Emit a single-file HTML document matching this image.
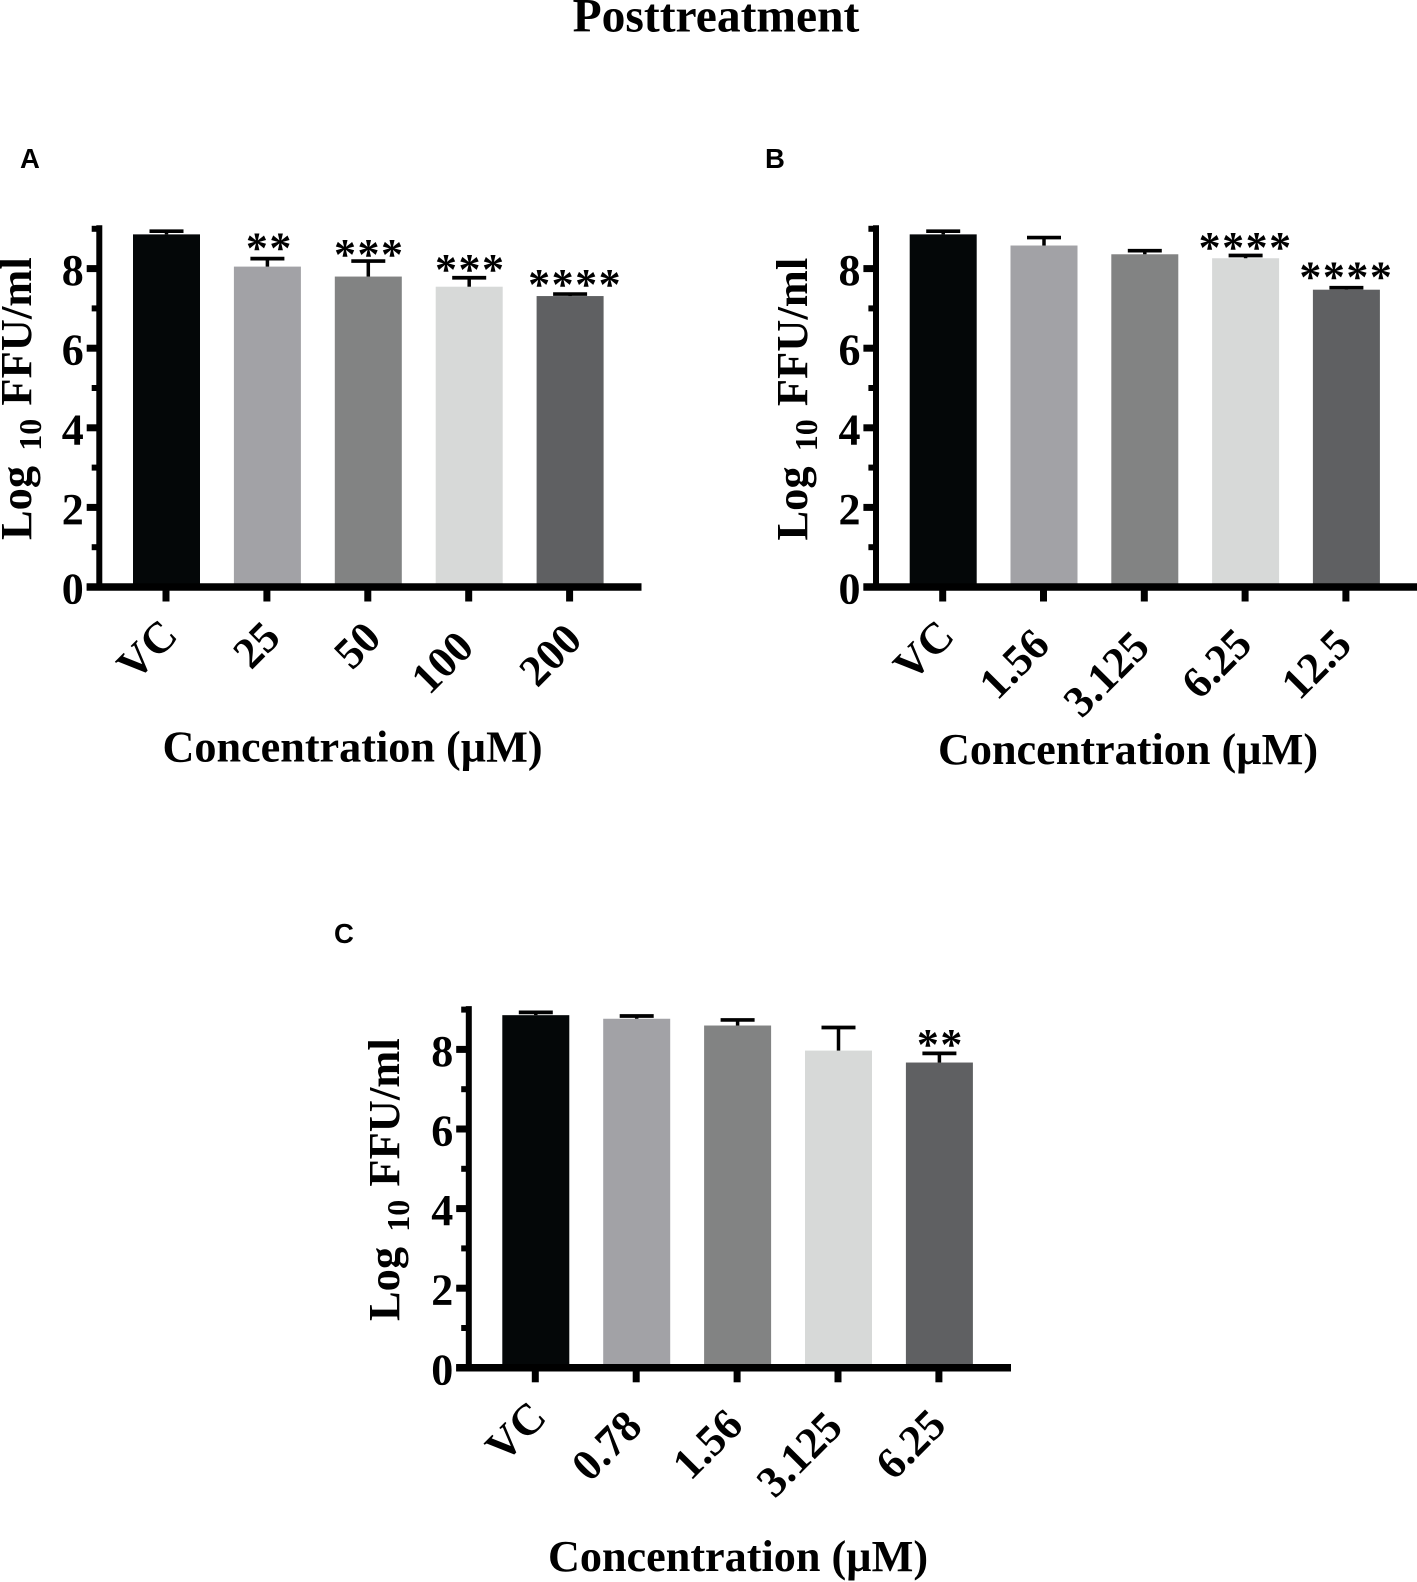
<!DOCTYPE html>
<html lang="en">
<head>
<meta charset="utf-8">
<title>Posttreatment</title>
<style>
html,body{margin:0;padding:0;background:#fff;width:1417px;height:1582px;overflow:hidden}
svg{display:block}
text{font-family:"Liberation Serif",serif;font-weight:700;fill:#000}
.letter{font-family:"Liberation Sans",sans-serif;font-size:27.5px}
.tick{font-size:44px}
.xt{font-size:44px}
.ax{font-size:44.2px}
.yt{font-size:44.5px}
.stars{font-weight:700;font-size:44px;letter-spacing:1.5px}
</style>
</head>
<body>
<svg id="fig" xmlns="http://www.w3.org/2000/svg" width="1417" height="1582" viewBox="0 0 1417 1582">
  <text x="716" y="31.5" text-anchor="middle" font-size="47.5">Posttreatment</text>

  <text class="letter" x="20" y="168">A</text>
  <text class="letter" x="765" y="168">B</text>
  <text class="letter" x="334" y="943">C</text>

  <text class="yt" transform="translate(31,540) rotate(-90)">Log <tspan font-size="32" dx="4" dy="10">10</tspan><tspan dx="2" dy="-10"> FFU/ml</tspan></text>
  <text class="yt" transform="translate(807,540.5) rotate(-90)">Log <tspan font-size="32" dx="4" dy="10">10</tspan><tspan dx="2" dy="-10"> FFU/ml</tspan></text>
  <text class="yt" transform="translate(399,1321) rotate(-90)">Log <tspan font-size="32" dx="4" dy="10">10</tspan><tspan dx="2" dy="-10"> FFU/ml</tspan></text>

  <text class="ax" x="352.5" y="761.5" text-anchor="middle">Concentration (µM)</text>
  <text class="ax" x="1128" y="764" text-anchor="middle">Concentration (µM)</text>
  <text class="ax" x="738" y="1571" text-anchor="middle">Concentration (µM)</text>
</svg>
<script>
// Shared axis values
const majorTicks = [0, 2, 4, 6, 8];
const minorTicks = [1, 3, 5, 7, 9];

// Panel A
const categoriesA = ["VC", "25", "50", "100", "200"];
const valuesA = [8.86, 8.05, 7.8, 7.545, 7.31];
const errorsA = [0.08, 0.2, 0.39, 0.225, 0.05];
const starsA = ["", "**", "***", "***", "****"];

// Panel B
const categoriesB = ["VC", "1.56", "3.125", "6.25", "12.5"];
const valuesB = [8.86, 8.58, 8.36, 8.26, 7.47];
const errorsB = [0.08, 0.2, 0.09, 0.07, 0.05];
const starsB = ["", "", "", "****", "****"];

// Panel C
const categoriesC = ["VC", "0.78", "1.56", "3.125", "6.25"];
const valuesC = [8.86, 8.77, 8.6, 7.97, 7.67];
const errorsC = [0.07, 0.07, 0.14, 0.58, 0.23];
const starsC = ["", "", "", "", "**"];

const barColors = ["#040708", "#a2a2a6", "#828383", "#d7d9d8", "#5f6062"];
const SVGNS = "http://www.w3.org/2000/svg";
const fig = document.getElementById("fig");

function el(parent, tag, props) {
  const n = document.createElementNS(SVGNS, tag);
  for (const k in props) n.setAttribute(k, props[k]);
  parent.appendChild(n);
  return n;
}

function drawPanel(id, cats, vals, errs, stars, geo) {
  const yScale = v => geo.y0 - v * geo.unit;
  const xBand = i => geo.barLeft + i * geo.step;
  const xMid = i => xBand(i) + geo.barW / 2;

  const g = el(fig, "g", {});
  
  

  cats.forEach((c, i) => {
    const top = yScale(vals[i]);
    const capY = yScale(vals[i] + errs[i]);

    const bar = el(g, "rect", {x: xBand(i), y: top, width: geo.barW, height: geo.y0 - top, fill: barColors[i]});
    
    

    const eb = el(g, "line", {x1: xMid(i), x2: xMid(i), y1: top, y2: capY, stroke: "#000", "stroke-width": 3.5});
    
    

    const cap = el(g, "line", {x1: xMid(i) - 17, x2: xMid(i) + 17, y1: capY, y2: capY, stroke: "#000", "stroke-width": 3.7});
    
    

    if (stars[i]) {
      const sx = xMid(i) + 1 + geo.starShiftX[i];
      const sy = capY + 21 - geo.starLift[i];
      const st = el(g, "text", {x: sx, y: sy, "text-anchor": "middle", "class": "stars"});
      st.textContent = stars[i];
      
      
    }

    const tx = xMid(i) - 0.5;
    const tk = el(g, "line", {x1: tx, x2: tx, y1: geo.y0, y2: geo.y0 + 14.5, stroke: "#000", "stroke-width": 7});
    
    

    const cx = tx + geo.labelDx[i], cy = geo.y0 + geo.labelDy[i];
    const lb = el(g, "text", {x: cx, y: cy + 15, "text-anchor": "middle", "class": "xt", transform: "rotate(-45 " + cx + " " + cy + ")"});
    lb.textContent = c;
    
    
  });

  minorTicks.forEach(v => {
    const m = el(g, "line", {x1: geo.spine - 7.6, x2: geo.spine, y1: yScale(v), y2: yScale(v), stroke: "#000", "stroke-width": 6});
    
    
  });

  majorTicks.forEach(v => {
    const m = el(g, "line", {x1: geo.spine - 12.6, x2: geo.spine, y1: yScale(v), y2: yScale(v), stroke: "#000", "stroke-width": 7});
    
    

    const t = el(g, "text", {x: geo.spine - 15.5, y: yScale(v) + 16.5, "text-anchor": "end", "class": "tick"});
    t.textContent = String(v);
    
    
  });

  const sp = el(g, "line", {x1: geo.spine, x2: geo.spine, y1: yScale(9) - 3.5, y2: geo.y0, stroke: "#000", "stroke-width": 6});
  
  

  const bl = el(g, "line", {x1: geo.spine - 12.6, x2: geo.axisEnd, y1: geo.y0, y2: geo.y0, stroke: "#000", "stroke-width": 7.5});
  
  
}

drawPanel("a", categoriesA, valuesA, errorsA, starsA, {
  y0: 587, unit: 39.8, barLeft: 133, barW: 67, step: 100.9, spine: 99.3, axisEnd: 641.5,
  labelDx: [-19.3, -10.8, -10.9, -26.8, -19.6],
  labelDy: [62.4, 57.5, 58, 75, 67.5],
  starShiftX: [0, 1, 0, 0, 4],
  starLift: [15, 17, 13, 14.7, 16]
});
drawPanel("b", categoriesB, valuesB, errorsB, starsB, {
  y0: 587, unit: 39.8, barLeft: 909.7, barW: 67, step: 100.8, spine: 876, axisEnd: 1417,
  labelDx: [-19.4, -29.8, -38.4, -29, -30],
  labelDy: [63, 76.5, 86.5, 76, 76.5],
  starShiftX: [0, 0, 0, -1, -1],
  starLift: [15, 15, 15, 14.4, 17]
});
drawPanel("c", categoriesC, valuesC, errorsC, starsC, {
  y0: 1367.8, unit: 39.8, barLeft: 502.3, barW: 67, step: 100.9, spine: 468.8, axisEnd: 1011,
  labelDx: [-19.9, -30, -30, -39, -28.7],
  labelDy: [63.5, 77.5, 76, 86, 76],
  starShiftX: [0, 0, 0, 0, 0],
  starLift: [15, 15, 15, 15, 15.2]
});
</script>
</body>
</html>
